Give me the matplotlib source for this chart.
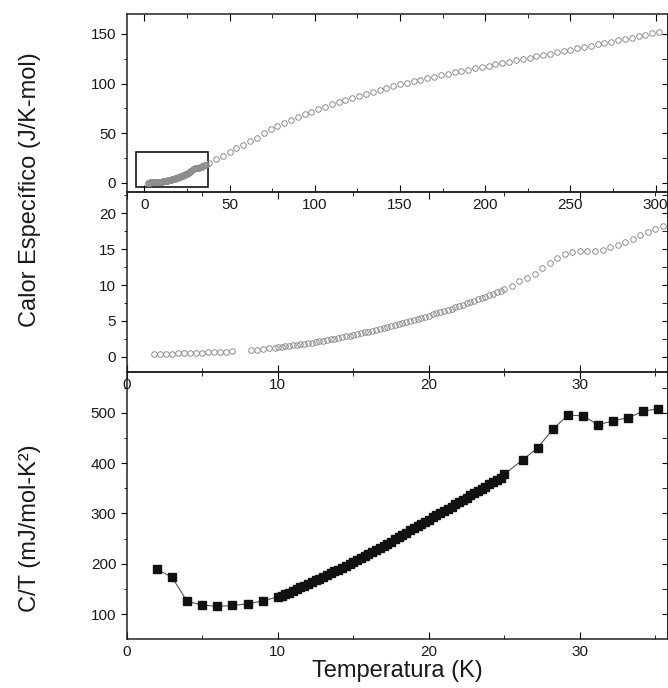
import matplotlib
matplotlib.use('Agg')
import matplotlib.pyplot as plt
from matplotlib.patches import Rectangle
from matplotlib.ticker import MultipleLocator

plt.rcParams['font.family'] = ['Liberation Sans', 'DejaVu Sans']

# calor especifico, region de baja temperatura (K, J/K-mol)
t_low = [1.8, 2.2, 2.6, 3.0, 3.4, 3.8, 4.2, 4.6, 5.0, 5.4, 5.8, 6.2, 6.6, 7.0,
         8.2, 8.6, 9.0, 9.4, 9.8,
         10.0, 10.25, 10.5, 10.75, 11.0, 11.25, 11.5, 11.75, 12.0, 12.25, 12.5, 12.75,
         13.0, 13.25, 13.5, 13.75, 14.0, 14.25, 14.5, 14.75, 15.0, 15.25, 15.5, 15.75,
         16.0, 16.25, 16.5, 16.75, 17.0, 17.25, 17.5, 17.75, 18.0, 18.25, 18.5, 18.75,
         19.0, 19.25, 19.5, 19.75, 20.0, 20.25, 20.5, 20.75, 21.0, 21.25, 21.5, 21.75,
         22.0, 22.25, 22.5, 22.75, 23.0, 23.25, 23.5, 23.75, 24.0, 24.25, 24.5, 24.75,
         25.0, 25.5, 26.0, 26.5, 27.0, 27.5, 28.0, 28.5, 29.0, 29.5, 30.0, 30.5, 31.0,
         31.5, 32.0, 32.5, 33.0, 33.5, 34.0, 34.5, 35.0, 35.5, 36.0]
c_low = [0.35, 0.40, 0.42, 0.45, 0.50, 0.52, 0.55, 0.58, 0.60, 0.65, 0.70, 0.72, 0.75, 0.80,
         0.95, 1.00, 1.10, 1.20, 1.30,
         1.35, 1.40, 1.46, 1.53, 1.60, 1.68, 1.76, 1.83, 1.92, 2.00, 2.09, 2.17,
         2.26, 2.35, 2.44, 2.54, 2.63, 2.74, 2.84, 2.95, 3.06, 3.17, 3.29, 3.40,
         3.52, 3.64, 3.76, 3.89, 4.01, 4.14, 4.27, 4.42, 4.55, 4.69, 4.83, 4.99,
         5.13, 5.27, 5.44, 5.59, 5.74, 5.91, 6.07, 6.23, 6.41, 6.57, 6.73, 6.92,
         7.08, 7.28, 7.45, 7.64, 7.82, 8.00, 8.20, 8.38, 8.59, 8.78, 8.99, 9.18,
         9.40, 9.90, 10.5, 11.0, 11.6, 12.3, 13.0, 13.8, 14.3, 14.6, 14.8, 14.8, 14.7,
         14.9, 15.3, 15.6, 16.0, 16.4, 17.0, 17.4, 17.8, 18.2, 18.5]

# calor especifico hasta 300 K
t_high = [38, 42, 46, 50, 54, 58, 62, 66, 70, 74, 78, 82, 86, 90, 94, 98, 102, 106,
          110, 114, 118, 122, 126, 130, 134, 138, 142, 146, 150, 154, 158, 162, 166,
          170, 174, 178, 182, 186, 190, 194, 198, 202, 206, 210, 214, 218, 222, 226,
          230, 234, 238, 242, 246, 250, 254, 258, 262, 266, 270, 274, 278, 282, 286,
          290, 294, 298, 302]
c_high = [20.5, 24.0, 27.5, 31.0, 35.0, 38.5, 42.0, 45.5, 50.5, 54.0, 57.0, 60.0, 63.0,
          66.0, 69.0, 71.5, 74.0, 76.5, 79.0, 81.5, 84.0, 86.0, 88.0, 90.0, 92.0, 94.0,
          96.0, 98.0, 99.5, 101.0, 102.5, 104.0, 105.5, 107.0, 108.5, 110.0, 111.5,
          113.0, 114.0, 115.5, 117.0, 118.0, 119.5, 121.0, 122.0, 123.5, 125.0, 126.0,
          127.5, 129.0, 130.0, 131.5, 133.0, 134.0, 135.5, 137.0, 138.0, 139.5, 141.0,
          142.0, 143.5, 145.0, 146.0, 147.5, 149.0, 150.5, 152.0]

# C/T (mJ/mol-K^2)
t_ct = [2, 3, 4, 5, 6, 7, 8, 9,
        10.0, 10.25, 10.5, 10.75, 11.0, 11.25, 11.5, 11.75, 12.0, 12.25, 12.5, 12.75,
        13.0, 13.25, 13.5, 13.75, 14.0, 14.25, 14.5, 14.75, 15.0, 15.25, 15.5, 15.75,
        16.0, 16.25, 16.5, 16.75, 17.0, 17.25, 17.5, 17.75, 18.0, 18.25, 18.5, 18.75,
        19.0, 19.25, 19.5, 19.75, 20.0, 20.25, 20.5, 20.75, 21.0, 21.25, 21.5, 21.75,
        22.0, 22.25, 22.5, 22.75, 23.0, 23.25, 23.5, 23.75, 24.0, 24.25, 24.5, 24.75,
        25.0, 26.2, 27.2, 28.2, 29.2, 30.2, 31.2, 32.2, 33.2, 34.2, 35.2]
ct = [189, 173, 125, 118, 115, 117, 120, 126,
      134, 136, 139, 142, 146, 149, 153, 156, 160, 163, 167, 170,
      174, 177, 181, 185, 188, 192, 196, 200, 204, 208, 212, 216,
      220, 224, 228, 232, 236, 240, 244, 249, 253, 257, 261, 266,
      270, 274, 279, 283, 287, 292, 296, 300, 305, 309, 313, 318,
      322, 327, 331, 336, 340, 344, 349, 353, 358, 362, 367, 371,
      378, 406, 430, 467, 495, 494, 476, 484, 490, 503, 508]

txt = '#1a1a1a'
gris = '#8c8c8c'

fig = plt.figure(figsize=(6.68, 6.88), dpi=100)
ax_top = fig.add_axes([0.1897, 0.7205, 0.8096, 0.2592])
ax_mid = fig.add_axes([0.1897, 0.4593, 0.8096, 0.2612])
ax_bot = fig.add_axes([0.1897, 0.0712, 0.8096, 0.3881])

ax_top.plot(t_low + t_high, c_low + c_high, 'o', ms=4, mfc='none', mec=gris, mew=0.7)
ax_top.add_patch(Rectangle((-5, -4.5), 42.5, 36, fill=False, ec='black', lw=1.1))
ax_top.set_xlim(-10.4, 307)
ax_top.set_ylim(-9.4, 170.1)
ax_top.xaxis.set_major_locator(MultipleLocator(50))
ax_top.xaxis.set_minor_locator(MultipleLocator(25))
ax_top.yaxis.set_major_locator(MultipleLocator(50))
ax_top.yaxis.set_minor_locator(MultipleLocator(25))

ax_mid.plot(t_low, c_low, 'o', ms=4, mfc='none', mec=gris, mew=0.7)
ax_mid.set_xlim(0, 35.8)
ax_mid.set_ylim(-2.1, 22.9)
ax_mid.xaxis.set_major_locator(MultipleLocator(10))
ax_mid.xaxis.set_minor_locator(MultipleLocator(5))
ax_mid.yaxis.set_major_locator(MultipleLocator(5))
ax_mid.yaxis.set_minor_locator(MultipleLocator(2.5))

ax_bot.plot(t_ct, ct, '-', color='#555555', lw=0.8, zorder=1)
ax_bot.plot(t_ct, ct, 's', ms=5.5, color='#111111', zorder=2)
ax_bot.set_xlim(0, 35.8)
ax_bot.set_ylim(50.3, 580.9)
ax_bot.xaxis.set_major_locator(MultipleLocator(10))
ax_bot.xaxis.set_minor_locator(MultipleLocator(5))
ax_bot.yaxis.set_major_locator(MultipleLocator(100))
ax_bot.yaxis.set_minor_locator(MultipleLocator(50))
ax_bot.set_xlabel('Temperatura (K)', fontsize=17, color=txt, labelpad=1)

for ax in (ax_top, ax_mid, ax_bot):
    # fondo transparente para que se vean las etiquetas del panel de arriba
    ax.set_facecolor('none')
    for s in ax.spines.values():
        s.set_linewidth(1.1)
        s.set_color('#222222')
    ax.tick_params(axis='x', which='both', direction='in', top=True,
                   labelsize=11, labelcolor=txt, pad=4)
    ax.tick_params(axis='x', which='major', length=5)
    ax.tick_params(axis='x', which='minor', length=3)
    ax.tick_params(axis='y', which='both', direction='out', labelsize=11,
                   labelcolor=txt)
    ax.tick_params(axis='y', which='major', length=4)
    ax.tick_params(axis='y', which='minor', length=2.5)
    # marcas del eje derecho hacia adentro
    sec = ax.secondary_yaxis('right')
    sec.yaxis.set_major_locator(ax.yaxis.get_major_locator())
    sec.yaxis.set_minor_locator(ax.yaxis.get_minor_locator())
    sec.tick_params(which='both', direction='in', labelright=False, length=4)
    sec.spines['right'].set_linewidth(1.1)

fig.text(0.045, 1 - 190 / 688, 'Calor Específico (J/K-mol)', rotation=90,
         ha='center', va='center', fontsize=17, color=txt)
fig.text(0.045, 1 - 528 / 688, 'C/T (mJ/mol-K²)', rotation=90,
         ha='center', va='center', fontsize=17, color=txt)

fig.savefig('out.png', dpi=100, facecolor='white')
